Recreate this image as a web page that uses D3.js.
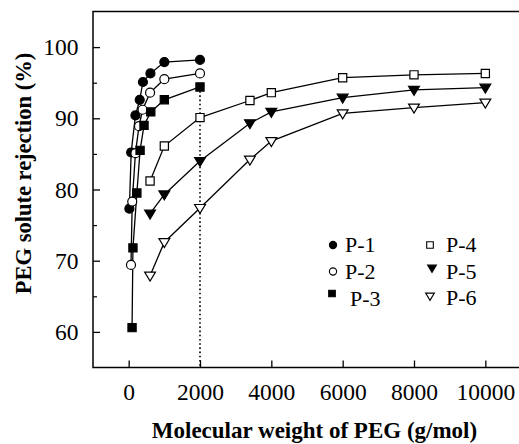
<!DOCTYPE html>
<html>
<head>
<meta charset="utf-8">
<script src="https://cdn.jsdelivr.net/npm/d3@7"></script>
<style>
  html, body { margin: 0; padding: 0; background: #fff; }
  svg { display: block; }
</style>
</head>
<body>
<svg id="chart" width="519" height="444"></svg>
<script>
// ---- data ----
const seriesNames = ["P-1", "P-2", "P-3", "P-4", "P-5", "P-6"];
const mwP1 = [20, 70, 190, 310, 400, 610, 1000, 2000];
const rejP1 = [77.3, 85.2, 90.4, 92.6, 95.1, 96.3, 97.9, 98.2];
const mwP2 = [65, 100, 190, 290, 390, 600, 1000, 2000];
const rejP2 = [69.4, 78.3, 85.1, 88.9, 91.2, 93.6, 95.5, 96.3];
const mwP3 = [95, 120, 230, 320, 430, 620, 1000, 2000];
const rejP3 = [60.6, 71.8, 79.5, 85.5, 89.0, 90.9, 92.6, 94.4];
const mwP4 = [600, 1000, 2000, 3400, 4000, 6000, 8000, 10000];
const rejP4 = [81.2, 86.1, 90.1, 92.5, 93.6, 95.7, 96.1, 96.3];
const mwP5 = [600, 1000, 2000, 3400, 4000, 6000, 8000, 10000];
const rejP5 = [76.6, 79.3, 84.0, 89.3, 90.9, 92.9, 94.0, 94.3];
const mwP6 = [600, 1000, 2000, 3400, 4000, 6000, 8000, 10000];
const rejP6 = [67.9, 72.6, 77.4, 84.2, 86.8, 90.7, 91.5, 92.2];
const xTicks = [0, 2000, 4000, 6000, 8000, 10000];
const yTicks = [60, 70, 80, 90, 100];
const yMinorTicks = [65, 75, 85, 95];
const markerShapes = ["circle", "circle", "square", "square", "triangle", "triangle"];
const markerFilled = [true, false, true, false, true, false];
const dottedAtMW = 2000;
const xLabel = "Molecular weight of PEG (g/mol)";
const yLabel = "PEG solute rejection (%)";

const series = [
  {name: seriesNames[0], x: mwP1, y: rejP1},
  {name: seriesNames[1], x: mwP2, y: rejP2},
  {name: seriesNames[2], x: mwP3, y: rejP3},
  {name: seriesNames[3], x: mwP4, y: rejP4},
  {name: seriesNames[4], x: mwP5, y: rejP5},
  {name: seriesNames[5], x: mwP6, y: rejP6}
];

const FONT = '"Liberation Serif"';

// ---- layout ----
const plotL = 93, plotR = 521, plotT = 11.5, plotB = 367.5;
const svg = d3.select("#chart");

const x = d3.scaleLinear().domain([-1000, 11000]).range([plotL, plotR]);
const y = d3.scaleLinear().domain([55, 105]).range([plotB, plotT]);

function markerPath(shape, size) {
  if (shape === "circle") return d3.symbol(d3.symbolCircle, Math.PI * size * size)();
  if (shape === "square") { const s = size; return `M${-s},${-s}H${s}V${s}H${-s}Z`; }
  const w = size * 1.15, h = size * 1.0;
  return `M${-w},${-h * 0.75}H${w}L0,${h * 1.15}Z`;
}

// dotted line at 2000 from P-3 point down to axis
svg.append("line")
  .attr("x1", x(dottedAtMW)).attr("x2", x(dottedAtMW))
  .attr("y1", y(rejP3[mwP3.indexOf(dottedAtMW)]))
  .attr("y2", plotB)
  .attr("stroke", "#000").attr("stroke-width", 1.6)
  .attr("stroke-dasharray", "1.6,2.6");

// axes
const gx = svg.append("g").attr("transform", `translate(0,${plotB})`)
  .call(d3.axisBottom(x).tickValues(xTicks).tickSize(-7).tickPadding(15.5).tickFormat(d3.format("d")));
gx.select(".domain").remove();
gx.selectAll("text").style("font-family", FONT).style("font-size", "23.5px");
gx.selectAll("line").attr("stroke-width", 1.3);

const gy = svg.append("g").attr("transform", `translate(${plotL},0)`)
  .call(d3.axisLeft(y).tickValues(yTicks).tickSize(-7).tickPadding(14.5));
gy.select(".domain").remove();
gy.selectAll("text").style("font-family", FONT).style("font-size", "23.5px");
gy.selectAll("line").attr("stroke-width", 1.3);

const gym = svg.append("g").attr("transform", `translate(${plotL},0)`)
  .call(d3.axisLeft(y).tickValues(yMinorTicks).tickSize(-4).tickFormat(""));
gym.select(".domain").remove();
gym.selectAll("line").attr("stroke-width", 1.2);

// frame
svg.append("path")
  .attr("d", `M${plotR},${plotT}H${plotL}V${plotB}H${plotR}`)
  .attr("fill", "none").attr("stroke", "#000").attr("stroke-width", 1.5);

// lines and markers
const line = d3.line().x(d => x(d[0])).y(d => y(d[1]));
series.forEach((s, i) => {
  const pts = s.x.map((v, j) => [v, s.y[j]]);
  svg.append("path").datum(pts).attr("d", line)
    .attr("fill", "none").attr("stroke", "#000").attr("stroke-width", 1.3);
});
series.forEach((s, i) => {
  const pts = s.x.map((v, j) => [v, s.y[j]]);
  const size = markerShapes[i] === "circle" ? 4.5 : (markerShapes[i] === "square" ? 4.1 : 4.7);
  svg.append("g").selectAll("path").data(pts).join("path")
    .attr("transform", d => `translate(${x(d[0])},${y(d[1])})`)
    .attr("d", markerPath(markerShapes[i], size))
    .attr("fill", markerFilled[i] ? "#000" : "#fff")
    .attr("stroke", "#000").attr("stroke-width", 1.2);
});

// legend
const legPos = [
  {mx: 333, my: 245, tx: 345, ty: 252},
  {mx: 333, my: 271.5, tx: 345, ty: 278.5},
  {mx: 332, my: 293.5, tx: 350, ty: 306},
  {mx: 430, my: 245, tx: 446, ty: 252},
  {mx: 432, my: 268, tx: 446, ty: 278.5},
  {mx: 430, my: 296, tx: 446, ty: 305}
];
const leg = svg.append("g");
seriesNames.forEach((n, i) => {
  const p = legPos[i];
  const size = markerShapes[i] === "circle" ? 3.6 : (markerShapes[i] === "square" ? 3.3 : 3.8);
  leg.append("path")
    .attr("transform", `translate(${p.mx},${p.my})`)
    .attr("d", markerPath(markerShapes[i], size))
    .attr("fill", markerFilled[i] ? "#000" : "#fff")
    .attr("stroke", "#000").attr("stroke-width", 1.1);
  leg.append("text").attr("x", p.tx).attr("y", p.ty)
    .style("font-family", FONT).style("font-size", "22px").text(n);
});

// axis titles
svg.append("text")
  .attr("x", (147 + 482) / 2).attr("y", 438)
  .attr("text-anchor", "middle")
  .style("font-family", FONT).style("font-size", "23px").style("font-weight", "bold")
  .text(xLabel);
svg.append("text")
  .attr("transform", `translate(31,173.5) rotate(-90)`)
  .attr("text-anchor", "middle")
  .style("font-family", FONT).style("font-size", "22.5px").style("font-weight", "bold")
  .text(yLabel);
</script>
</body>
</html>
